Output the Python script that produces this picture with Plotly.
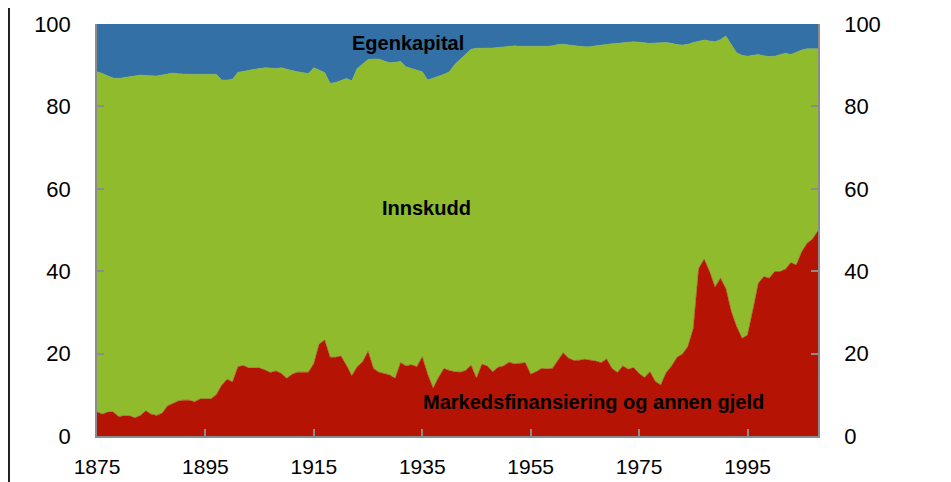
import plotly.graph_objects as go

# Andeler av forvaltningskapital (prosent), 1875-2008
aar = list(range(1875, 2009))

markedsfinansiering = [
    5.8, 5.3, 5.8, 5.8, 4.7, 4.9, 4.9, 4.4, 5.0, 6.1,
    5.3, 5.0, 5.5, 7.3, 7.9, 8.5, 8.7, 8.7, 8.3, 9.0,
    9.0, 9.0, 10.0, 12.3, 13.8, 13.1, 16.8, 17.1, 16.5, 16.5,
    16.5, 16.0, 15.4, 15.8, 15.2, 14.0, 15.0, 15.5, 15.5, 15.5,
    17.6, 22.3, 23.3, 19.1, 19.1, 19.4, 17.2, 14.6, 16.8, 18.0,
    20.5, 16.4, 15.5, 15.2, 14.8, 14.0, 17.8, 17.0, 17.3, 16.8,
    19.2, 15.0, 11.6, 14.2, 16.4, 15.9, 15.6, 15.5, 15.9, 17.2,
    14.0, 17.4, 17.0, 15.6, 16.7, 17.0, 17.9, 17.5, 17.6, 17.8,
    15.0, 15.6, 16.4, 16.3, 16.4, 18.4, 20.2, 18.9, 18.3, 18.4,
    18.6, 18.4, 18.2, 17.8, 18.7, 16.4, 15.4, 17.0, 16.2, 16.6,
    15.2, 14.2, 15.6, 13.2, 12.4, 15.4, 17.0, 19.1, 19.9, 21.7,
    26.1, 40.7, 42.9, 39.9, 36.1, 38.3, 35.8, 30.2, 26.5, 23.7,
    24.5, 30.6, 37.1, 38.7, 38.3, 39.9, 39.9, 40.5, 42.1, 41.5,
    44.7, 46.8, 47.8, 49.8,
]

innskudd = [
    82.6, 82.7, 81.6, 81.1, 82.1, 82.1, 82.4, 83.1, 82.6, 81.4,
    82.1, 82.4, 82.1, 80.6, 80.2, 79.4, 79.1, 79.1, 79.5, 78.8,
    78.8, 78.8, 77.8, 74.1, 72.6, 73.5, 71.5, 71.4, 72.3, 72.5,
    72.7, 73.4, 73.9, 73.4, 74.2, 75.0, 73.7, 72.9, 72.7, 72.5,
    71.8, 66.5, 64.9, 66.5, 66.7, 66.9, 69.6, 71.6, 72.4, 72.3,
    70.9, 75.1, 76.0, 75.8, 75.8, 76.7, 73.1, 72.6, 71.9, 72.0,
    69.2, 71.4, 75.2, 73.1, 71.4, 72.5, 74.6, 76.0, 76.9, 76.7,
    80.1, 76.7, 77.2, 78.6, 77.6, 77.4, 76.6, 77.2, 77.0, 76.8,
    79.5, 78.9, 78.1, 78.3, 78.3, 76.6, 74.9, 76.0, 76.4, 76.2,
    75.9, 76.1, 76.5, 77.1, 76.3, 78.8, 79.9, 78.4, 79.4, 79.1,
    80.4, 81.2, 79.7, 82.2, 83.1, 80.1, 78.3, 75.9, 75.0, 73.4,
    69.4, 55.1, 53.2, 56.0, 59.6, 57.9, 61.3, 64.8, 66.5, 68.7,
    67.7, 61.8, 55.5, 53.6, 53.8, 52.3, 52.7, 52.4, 50.5, 51.6,
    49.0, 47.2, 46.2, 44.2,
]

egenkapital = [
    11.6, 12.0, 12.6, 13.1, 13.2, 13.0, 12.7, 12.5, 12.4, 12.5,
    12.6, 12.6, 12.4, 12.1, 11.9, 12.1, 12.2, 12.2, 12.2, 12.2,
    12.2, 12.2, 12.2, 13.6, 13.6, 13.4, 11.7, 11.5, 11.2, 11.0,
    10.8, 10.6, 10.7, 10.8, 10.6, 11.0, 11.3, 11.6, 11.8, 12.0,
    10.6, 11.2, 11.8, 14.4, 14.2, 13.7, 13.2, 13.8, 10.8, 9.7,
    8.6, 8.5, 8.5, 9.0, 9.4, 9.3, 9.1, 10.4, 10.8, 11.2,
    11.6, 13.6, 13.2, 12.7, 12.2, 11.6, 9.8, 8.5, 7.2, 6.1,
    5.9, 5.9, 5.8, 5.8, 5.7, 5.6, 5.5, 5.3, 5.4, 5.4,
    5.5, 5.5, 5.5, 5.4, 5.3, 5.0, 4.9, 5.1, 5.3, 5.4,
    5.5, 5.5, 5.3, 5.1, 5.0, 4.8, 4.7, 4.6, 4.4, 4.3,
    4.4, 4.6, 4.7, 4.6, 4.5, 4.5, 4.7, 5.0, 5.1, 4.9,
    4.5, 4.2, 3.9, 4.1, 4.3, 3.8, 2.9, 5.0, 7.0, 7.6,
    7.8, 7.6, 7.4, 7.7, 7.9, 7.8, 7.4, 7.1, 7.4, 6.9,
    6.3, 6.0, 6.0, 6.0,
]

x_ticks = [1875, 1895, 1915, 1935, 1955, 1975, 1995]
y_ticks = [0, 20, 40, 60, 80, 100]

RED = "#b51405"
GREEN = "#8fbb2d"
BLUE = "#3370a5"
GREY = "#8c8c8c"
FONT = "Liberation Sans, Arial, sans-serif"

fig = go.Figure()
for navn, verdier, farge in [
    ("Markedsfinansiering og annen gjeld", markedsfinansiering, RED),
    ("Innskudd", innskudd, GREEN),
    ("Egenkapital", egenkapital, BLUE),
]:
    fig.add_trace(go.Scatter(
        x=aar, y=verdier, name=navn, stackgroup="one", mode="lines",
        line=dict(width=0.5, color=farge), fillcolor=farge,
        hovertemplate="%{x}: %{y:.1f}<extra>" + navn + "</extra>"))

# usynlig spor for aa tegne hoeyre akse
fig.add_trace(go.Scatter(x=aar, y=markedsfinansiering, yaxis="y2", mode="lines",
                         line=dict(width=0), opacity=0, hoverinfo="skip",
                         showlegend=False))

# siden har 8px kant i body, derfor litt mindre figur
W, H = 943, 474
L, R, T, B = 89, 133, 16, 46

axis_common = dict(showline=True, linecolor=GREY, linewidth=1.5, ticks="inside",
                   ticklen=7, tickcolor=GREY, tickwidth=1.5, showgrid=False,
                   zeroline=False, automargin=False,
                   tickfont=dict(size=22, color="black", family=FONT))

fig.update_layout(
    width=W, height=H,
    margin=dict(l=L, r=R, t=T, b=B),
    paper_bgcolor="white", plot_bgcolor="white",
    showlegend=False,
    font=dict(family=FONT, color="black"),
    xaxis=dict(range=[1875, 2008], tickvals=x_ticks, ticklabelstandoff=11,
               **{**axis_common, "tickfont": dict(size=21, color="black", family=FONT)}),
    yaxis=dict(range=[0, 100], tickvals=y_ticks, ticklabelstandoff=20, **axis_common),
    yaxis2=dict(range=[0, 100], tickvals=y_ticks, overlaying="y", side="right",
                ticklabelstandoff=20, **axis_common),
    annotations=[
        dict(x=1932.4, y=95.4, text="<b>Egenkapital</b>"),
        dict(x=1935.8, y=55.3, text="<b>Innskudd</b>"),
        dict(x=1966.6, y=8.2, text="<b>Markedsfinansiering og annen gjeld</b>"),
    ],
    shapes=[dict(type="line", xref="paper", yref="paper",
                 x0=-(L - 1) / (W - L - R), x1=-(L - 1) / (W - L - R),
                 y0=-B / (H - T - B), y1=1 + T / (H - T - B),
                 line=dict(color="#222222", width=2))],
)
fig.update_annotations(showarrow=False, xanchor="center", yanchor="middle",
                       font=dict(size=20, color="black", family=FONT))

fig.write_html("out.html")
